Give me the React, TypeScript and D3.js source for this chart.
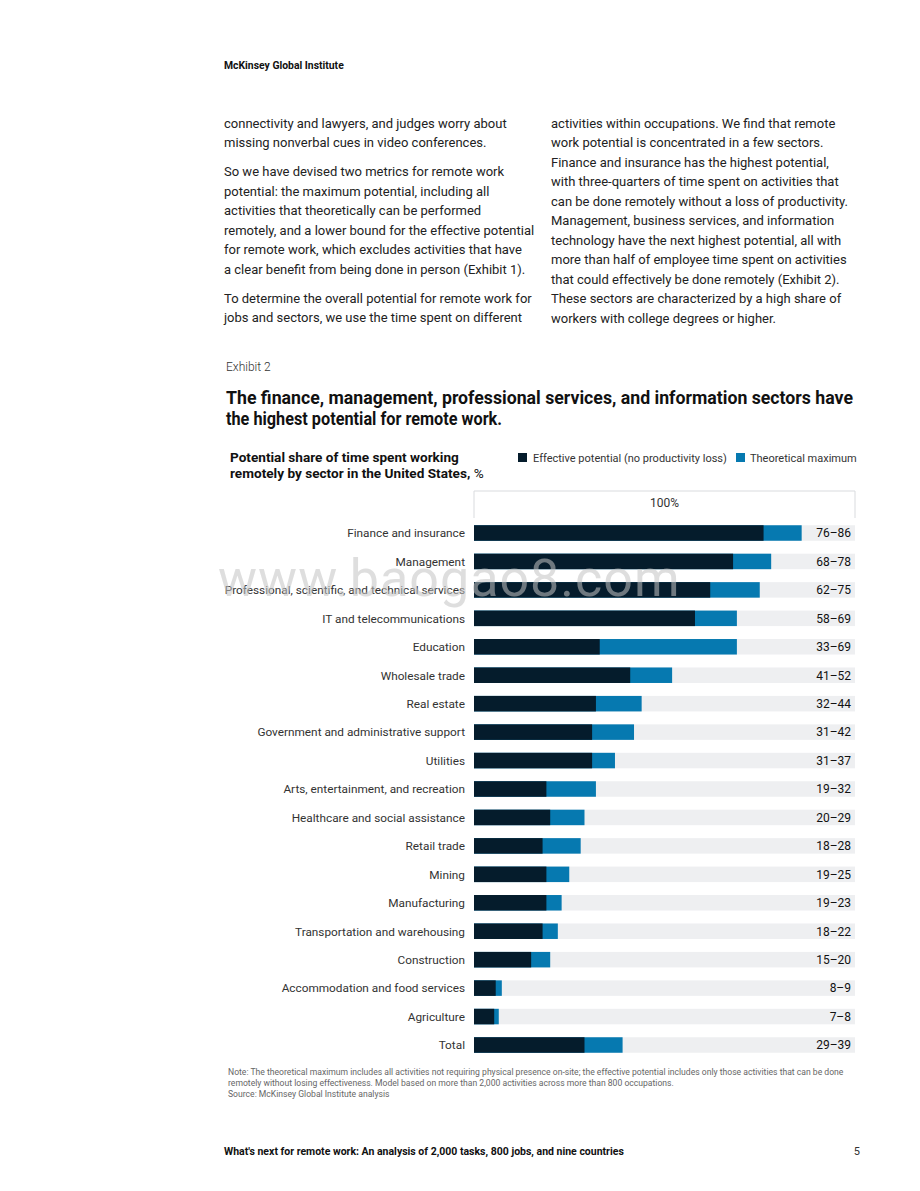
import * as d3 from "d3";
import { useEffect } from "react";

// sectors, top to bottom
const sectors = [
  "Finance and insurance",
  "Management",
  "Professional, scientific, and technical services",
  "IT and telecommunications",
  "Education",
  "Wholesale trade",
  "Real estate",
  "Government and administrative support",
  "Utilities",
  "Arts, entertainment, and recreation",
  "Healthcare and social assistance",
  "Retail trade",
  "Mining",
  "Manufacturing",
  "Transportation and warehousing",
  "Construction",
  "Accommodation and food services",
  "Agriculture",
  "Total",
];

// bar lengths, % of time
const effective = [76, 68, 62, 58, 33, 41, 32, 31, 31, 19, 20, 18, 19, 19, 18, 15, 5.7, 5.3, 29];
const theoretical = [86, 78, 75, 69, 69, 52, 44, 42, 37, 32, 29, 28, 25, 23, 22, 20, 7.3, 6.5, 39];

// printed range labels
const rangeLabels = [
  "76–86", "68–78", "62–75", "58–69", "33–69", "41–52", "32–44", "31–42", "31–37",
  "19–32", "20–29", "18–28", "19–25", "19–23", "18–22", "15–20", "8–9", "7–8", "29–39",
];

const leftColumn = [
  ["connectivity and lawyers, and judges worry about", "missing nonverbal cues in video conferences."],
  [
    "So we have devised two metrics for remote work",
    "potential: the maximum potential, including all",
    "activities that theoretically can be performed",
    "remotely, and a lower bound for the effective potential",
    "for remote work, which excludes activities that have",
    "a clear benefit from being done in person (Exhibit 1).",
  ],
  ["To determine the overall potential for remote work for", "jobs and sectors, we use the time spent on different"],
];

const rightColumn = [
  "activities within occupations. We find that remote",
  "work potential is concentrated in a few sectors.",
  "Finance and insurance has the highest potential,",
  "with three-quarters of time spent on activities that",
  "can be done remotely without a loss of productivity.",
  "Management, business services, and information",
  "technology have the next highest potential, all with",
  "more than half of employee time spent on activities",
  "that could effectively be done remotely (Exhibit 2).",
  "These sectors are characterized by a high share of",
  "workers with college degrees or higher.",
];

const noteLines = [
  "Note: The theoretical maximum includes all activities not requiring physical presence on-site; the effective potential includes only those activities that can be done",
  "remotely without losing effectiveness. Model based on more than 2,000 activities across more than 800 occupations.",
  "Source: McKinsey Global Institute analysis",
];

const W = 920;
const H = 1191;
const DARK = "#051c2c";
const BLUE = "#0679b0";
const TRACK = "#eeeff1";
const FONT = "Roboto, 'Liberation Sans', sans-serif";

export default function App() {
  useEffect(() => {
    document.body.style.margin = "0";
  }, []);

  const x = d3.scaleLinear().domain([0, 100]).range([474, 855]);
  const y = d3.scalePoint<string>().domain(sectors).range([533, 1045]);
  const barH = 15.5;

  const lineH = 19.5;
  let ly = 123;
  const leftLines: { t: string; y: number }[] = [];
  leftColumn.forEach((para) => {
    para.forEach((t) => {
      leftLines.push({ t, y: ly });
      ly += lineH;
    });
    ly += 9.5;
  });

  return (
    <svg width={W} height={H} viewBox={`0 0 ${W} ${H}`} style={{ display: "block", fontFamily: FONT }}>
      <rect width={W} height={H} fill="#fff" />

      <text x={224} y={69} fontSize={10.4} fontWeight={700} fill="#111">McKinsey Global Institute</text>

      <g fontSize={13} fill="#222">
        {leftLines.map((l, i) => (
          <text key={i} x={224} y={l.y + 4.5}>{l.t}</text>
        ))}
        {rightColumn.map((t, i) => (
          <text key={i} x={551} y={123 + i * lineH + 4.5}>{t}</text>
        ))}
      </g>

      <text x={226} y={371} fontSize={12} fontWeight={300} fill="#333">Exhibit 2</text>
      <g fontSize={17.5} fontWeight={700} fill="#111">
        <text x={226} y={404} textLength={627} lengthAdjust="spacingAndGlyphs">
          The finance, management, professional services, and information sectors have
        </text>
        <text x={226} y={425} textLength={276} lengthAdjust="spacingAndGlyphs">
          the highest potential for remote work.
        </text>
      </g>

      <g fontSize={13.6} fill="#111">
        <text x={230} y={462} fontWeight={700}>Potential share of time spent working</text>
        <text x={230} y={478}>
          <tspan fontWeight={700}>remotely by sector in the United States, </tspan>
          <tspan fontWeight={400}>%</tspan>
        </text>
      </g>

      <g fontSize={11} fill="#333">
        <rect x={518} y={453} width={9} height={9} fill={DARK} />
        <text x={533} y={462}>Effective potential (no productivity loss)</text>
        <rect x={736} y={453} width={9} height={9} fill={BLUE} />
        <text x={750} y={462}>Theoretical maximum</text>
      </g>

      <path
        d={`M${x(0)},518 V${491} H${x(100)} V518`}
        fill="none"
        stroke="#d9dbde"
        strokeWidth={1}
      />
      <text x={(x(0) + x(100)) / 2} y={507} textAnchor="middle" fontSize={12} fill="#333">100%</text>

      <g>
        {sectors.map((s, i) => {
          const cy = y(s)!;
          return (
            <g key={s}>
              <text x={465} y={cy + 4.3} textAnchor="end" fontSize={11.8} fill="#333">{s}</text>
              <rect x={x(0)} y={cy - barH / 2} width={x(100) - x(0)} height={barH} fill={TRACK} />
              <rect x={x(0)} y={cy - barH / 2} width={x(theoretical[i]) - x(0)} height={barH} fill={BLUE} />
              <rect x={x(0)} y={cy - barH / 2} width={x(effective[i]) - x(0)} height={barH} fill={DARK} />
              <text x={851} y={cy + 4.3} textAnchor="end" fontSize={12} fill="#111">{rangeLabels[i]}</text>
            </g>
          );
        })}
      </g>

      <text x={218} y={596} fontSize={52} fill="#c4c4c4" opacity={0.55} letterSpacing={1}>www.baogao8.com</text>

      <g fontSize={8.6} fill="#666">
        {noteLines.map((t, i) => (
          <text key={i} x={228} y={1075 + i * 11}>{t}</text>
        ))}
      </g>

      <text x={224} y={1155} fontSize={10.5} fontWeight={700} fill="#111">
        What's next for remote work: An analysis of 2,000 tasks, 800 jobs, and nine countries
      </text>
      <text x={860} y={1155} fontSize={11} textAnchor="end" fill="#333">5</text>
    </svg>
  );
}
